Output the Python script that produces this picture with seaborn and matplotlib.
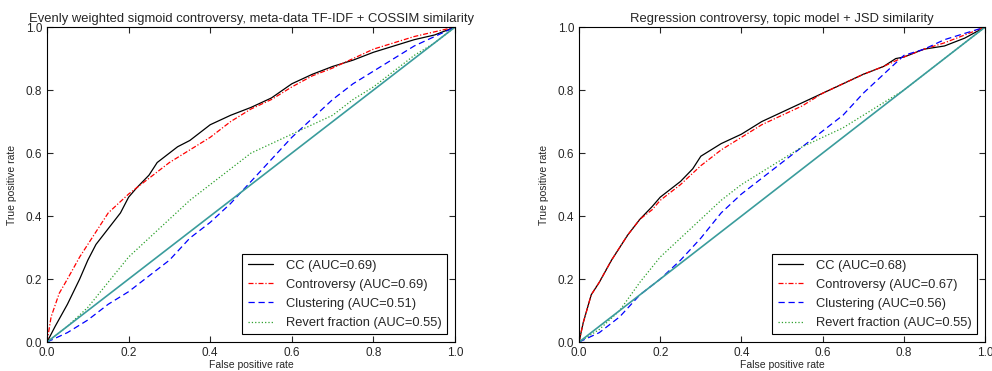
import matplotlib
matplotlib.use("Agg")
import matplotlib.pyplot as plt
import seaborn as sns

# ROC points, left panel (meta-data TF-IDF + COSSIM)
left_cc_fpr = [0, 0.02, 0.05, 0.08, 0.10, 0.12, 0.15, 0.18, 0.20, 0.22, 0.25, 0.27, 0.30, 0.32, 0.35, 0.40, 0.45, 0.50, 0.55, 0.60, 0.65, 0.70, 0.75, 0.80, 0.85, 0.90, 0.95, 1.0]
left_cc_tpr = [0, 0.05, 0.12, 0.20, 0.26, 0.31, 0.36, 0.41, 0.46, 0.49, 0.53, 0.57, 0.60, 0.62, 0.64, 0.69, 0.72, 0.745, 0.775, 0.82, 0.85, 0.875, 0.895, 0.92, 0.94, 0.96, 0.975, 1.0]
left_con_fpr = [0, 0.01, 0.03, 0.05, 0.08, 0.10, 0.12, 0.15, 0.20, 0.25, 0.30, 0.35, 0.40, 0.45, 0.50, 0.55, 0.60, 0.65, 0.70, 0.75, 0.80, 0.85, 0.90, 0.95, 1.0]
left_con_tpr = [0, 0.08, 0.155, 0.20, 0.27, 0.31, 0.35, 0.41, 0.47, 0.52, 0.57, 0.61, 0.65, 0.70, 0.74, 0.77, 0.81, 0.845, 0.87, 0.90, 0.93, 0.95, 0.97, 0.985, 1.0]
left_clu_fpr = [0, 0.05, 0.10, 0.15, 0.20, 0.25, 0.30, 0.35, 0.40, 0.45, 0.50, 0.55, 0.60, 0.65, 0.70, 0.75, 0.80, 0.85, 0.90, 0.95, 1.0]
left_clu_tpr = [0, 0.03, 0.07, 0.12, 0.16, 0.21, 0.26, 0.33, 0.38, 0.44, 0.51, 0.58, 0.65, 0.71, 0.77, 0.82, 0.86, 0.90, 0.94, 0.97, 1.0]
left_rev_fpr = [0, 0.05, 0.10, 0.15, 0.20, 0.25, 0.30, 0.35, 0.40, 0.45, 0.50, 0.55, 0.60, 0.65, 0.70, 0.75, 0.80, 0.85, 0.90, 0.95, 1.0]
left_rev_tpr = [0, 0.05, 0.11, 0.19, 0.27, 0.33, 0.39, 0.45, 0.50, 0.55, 0.60, 0.63, 0.66, 0.69, 0.72, 0.77, 0.81, 0.86, 0.91, 0.95, 1.0]

# right panel (topic model + JSD)
right_cc_fpr = [0, 0.01, 0.03, 0.05, 0.08, 0.10, 0.12, 0.15, 0.18, 0.20, 0.25, 0.28, 0.30, 0.35, 0.40, 0.45, 0.50, 0.55, 0.60, 0.65, 0.70, 0.75, 0.78, 0.80, 0.85, 0.90, 0.95, 1.0]
right_cc_tpr = [0, 0.06, 0.15, 0.19, 0.26, 0.30, 0.34, 0.39, 0.43, 0.46, 0.51, 0.55, 0.59, 0.63, 0.66, 0.70, 0.73, 0.76, 0.79, 0.82, 0.85, 0.875, 0.90, 0.905, 0.93, 0.94, 0.965, 1.0]
right_con_fpr = [0, 0.01, 0.03, 0.05, 0.08, 0.10, 0.12, 0.15, 0.18, 0.20, 0.25, 0.30, 0.35, 0.40, 0.45, 0.50, 0.55, 0.60, 0.65, 0.70, 0.75, 0.80, 0.85, 0.90, 0.95, 1.0]
right_con_tpr = [0, 0.06, 0.15, 0.19, 0.26, 0.30, 0.34, 0.39, 0.42, 0.45, 0.50, 0.56, 0.61, 0.65, 0.69, 0.72, 0.75, 0.79, 0.82, 0.85, 0.875, 0.905, 0.93, 0.95, 0.975, 1.0]
right_clu_fpr = [0, 0.05, 0.10, 0.15, 0.20, 0.25, 0.30, 0.35, 0.40, 0.45, 0.50, 0.55, 0.60, 0.65, 0.70, 0.75, 0.80, 0.85, 0.90, 0.95, 1.0]
right_clu_tpr = [0, 0.03, 0.08, 0.15, 0.20, 0.26, 0.33, 0.41, 0.47, 0.52, 0.57, 0.62, 0.67, 0.72, 0.79, 0.85, 0.91, 0.93, 0.96, 0.98, 1.0]
right_rev_fpr = [0, 0.05, 0.10, 0.15, 0.20, 0.25, 0.30, 0.35, 0.40, 0.45, 0.50, 0.55, 0.60, 0.65, 0.70, 0.75, 0.80, 0.85, 0.90, 0.95, 1.0]
right_rev_tpr = [0, 0.04, 0.10, 0.19, 0.27, 0.33, 0.39, 0.45, 0.50, 0.54, 0.58, 0.62, 0.65, 0.68, 0.72, 0.76, 0.80, 0.85, 0.90, 0.95, 1.0]

diag = [0, 1]

titles = ["Evenly weighted sigmoid controversy, meta-data TF-IDF + COSSIM similarity",
          "Regression controversy, topic model + JSD similarity"]
left_labels = ["CC (AUC=0.69)", "Controversy (AUC=0.69)", "Clustering (AUC=0.51)", "Revert fraction (AUC=0.55)"]
right_labels = ["CC (AUC=0.68)", "Controversy (AUC=0.67)", "Clustering (AUC=0.56)", "Revert fraction (AUC=0.55)"]
ticks = [0.0, 0.2, 0.4, 0.6, 0.8, 1.0]

sns.set_style("ticks")
plt.rcParams['font.family'] = ['Liberation Sans', 'DejaVu Sans']
plt.rcParams['xtick.direction'] = 'in'
plt.rcParams['ytick.direction'] = 'in'

fig = plt.figure(figsize=(9.92, 3.71), dpi=100)
ax_l = fig.add_axes([0.0474, 0.078, 0.4113, 0.849])
ax_r = fig.add_axes([0.5837, 0.078, 0.4093, 0.849])

styles = [('black', '-'), ('red', (0, (4, 1.5, 1, 1.5))), ('blue', (0, (5, 3))), ('#2ca02c', ':')]

panels = [
    (ax_l, [(left_cc_fpr, left_cc_tpr), (left_con_fpr, left_con_tpr),
            (left_clu_fpr, left_clu_tpr), (left_rev_fpr, left_rev_tpr)], left_labels, titles[0]),
    (ax_r, [(right_cc_fpr, right_cc_tpr), (right_con_fpr, right_con_tpr),
            (right_clu_fpr, right_clu_tpr), (right_rev_fpr, right_rev_tpr)], right_labels, titles[1]),
]

for ax, curves, labels, title in panels:
    for (fpr, tpr), (col, ls), lab in zip(curves, styles, labels):
        sns.lineplot(x=fpr, y=tpr, ax=ax, color=col, linestyle=ls, linewidth=0.9,
                     label=lab, estimator=None, sort=False)
    # chance line
    sns.lineplot(x=diag, y=diag, ax=ax, color='#3a9c9c', linewidth=1.2, estimator=None)
    ax.set_xlim(0, 1)
    ax.set_ylim(0, 1)
    ax.set_xticks(ticks)
    ax.set_yticks(ticks)
    ax.tick_params(labelsize=8.5, top=True, right=True, length=4, width=0.8)
    for s in ax.spines.values():
        s.set_visible(True)
        s.set_color('black')
        s.set_linewidth(0.8)
    ax.set_xlabel("False positive rate", fontsize=7.5, labelpad=1)
    ax.set_ylabel("True positive rate", fontsize=7.5, labelpad=6)
    ax.set_title(title, fontsize=9.4, pad=4)
    leg = ax.legend(loc='lower right', fontsize=9.3, fancybox=False, handlelength=2.0,
                    borderaxespad=0.6, labelspacing=0.55, handletextpad=1.0)
    leg.get_frame().set_edgecolor('black')
    leg.get_frame().set_linewidth(0.8)
    leg.get_frame().set_alpha(1)

fig.savefig("out.png", dpi=100)
